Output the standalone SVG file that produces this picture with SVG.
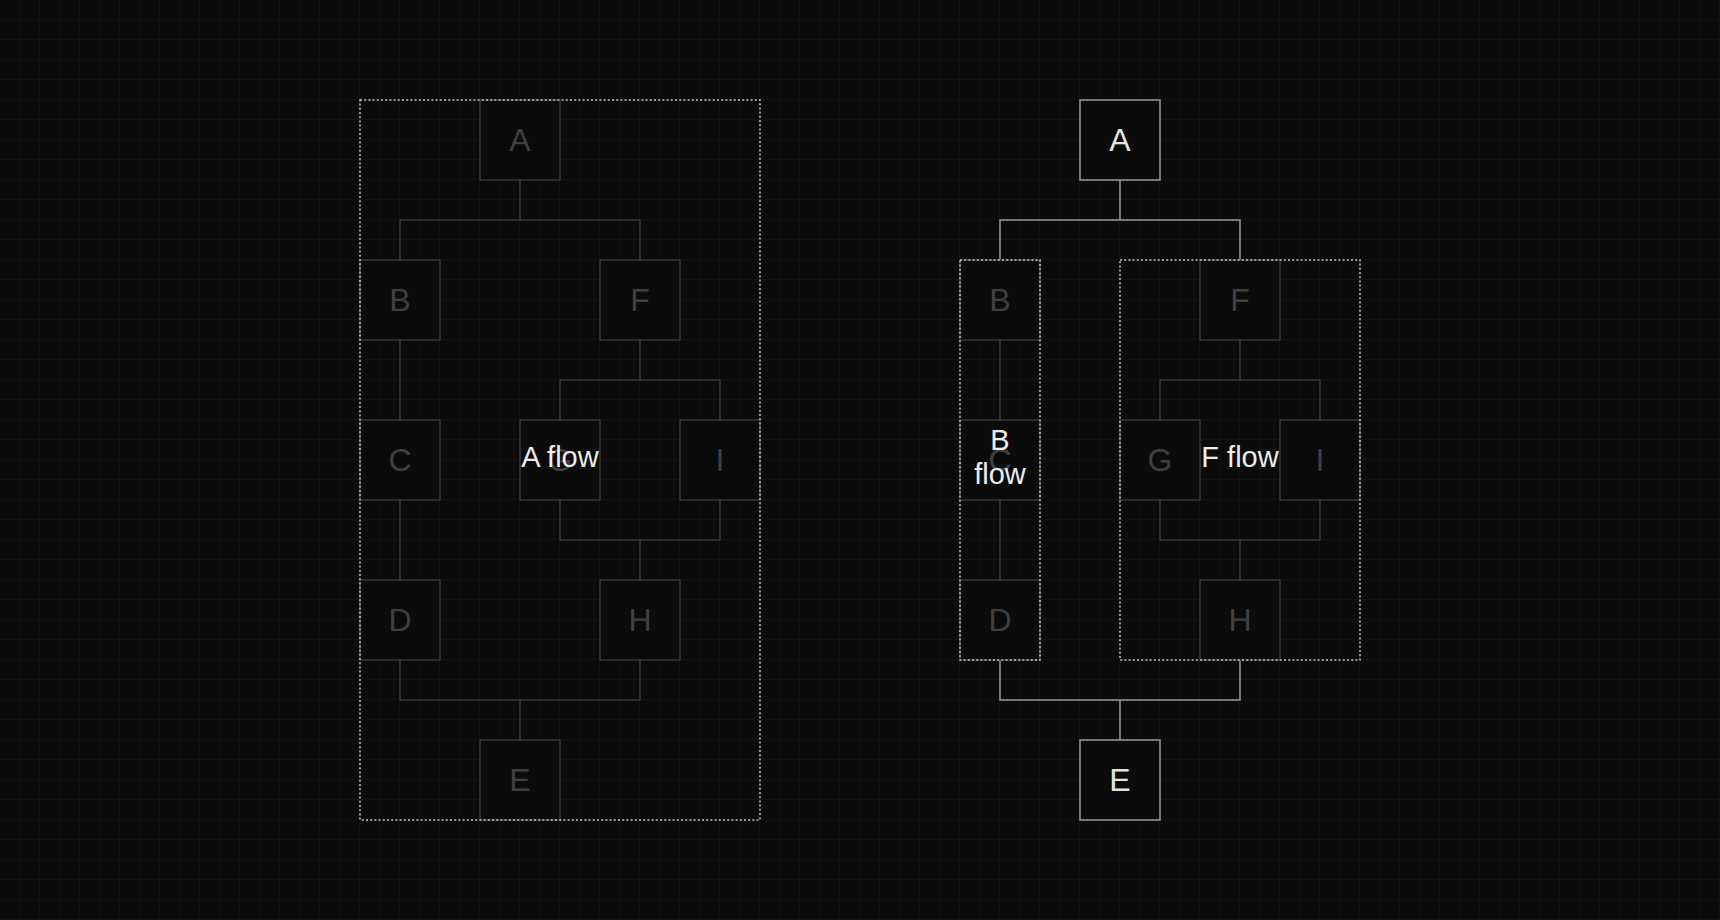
<svg xmlns="http://www.w3.org/2000/svg" width="1720" height="920" viewBox="0 0 1720 920">
<defs>
<pattern id="grid" width="20" height="20" patternUnits="userSpaceOnUse">
<path d="M20 0V20M0 20H20" fill="none" stroke="#181818" stroke-width="1"/>
</pattern>
<style>
.bg{fill:#0b0b0b}
.dn{fill:#0b0b0b;stroke:#383838;stroke-width:1.5}
.bn{fill:#0b0b0b;stroke:#9a9a9a;stroke-width:1.5}
.dc{fill:none;stroke:#383838;stroke-width:1.5}
.bc{fill:none;stroke:#9a9a9a;stroke-width:1.5}
.dt{fill:#404040;font-family:"Liberation Sans",Arial,sans-serif;font-size:32px;text-anchor:middle}
.bt{fill:#e2e2e2;font-family:"Liberation Sans",Arial,sans-serif;font-size:32px;text-anchor:middle}
.grp{fill:none;stroke:#c8c8c8;stroke-width:1.5;stroke-dasharray:2 2.2}
.lbl{fill:#ececec;font-family:"Liberation Sans",Arial,sans-serif;font-size:29px;text-anchor:middle}
</style>
</defs>
<rect class="bg" x="0" y="0" width="1720" height="920"/>
<rect x="0" y="0" width="1720" height="920" fill="url(#grid)"/>

<!-- LEFT: A flow -->
<g id="left-connectors">
<path class="dc" d="M520 180V220M400 260V220H640V260"/>
<path class="dc" d="M400 340V420M400 500V580"/>
<path class="dc" d="M640 340V380M560 420V380H720V420"/>
<path class="dc" d="M560 500V540H720V500M640 540V580"/>
<path class="dc" d="M400 660V700H640V660M520 700V740"/>
</g>
<g id="l-A"><rect class="dn" x="480" y="100" width="80" height="80"/><text class="dt" x="520" y="151">A</text></g>
<g id="l-B"><rect class="dn" x="360" y="260" width="80" height="80"/><text class="dt" x="400" y="311">B</text></g>
<g id="l-F"><rect class="dn" x="600" y="260" width="80" height="80"/><text class="dt" x="640" y="311">F</text></g>
<g id="l-C"><rect class="dn" x="360" y="420" width="80" height="80"/><text class="dt" x="400" y="471">C</text></g>
<g id="l-G"><rect class="dn" x="520" y="420" width="80" height="80"/><text class="dt" x="560" y="471">G</text></g>
<g id="l-I"><rect class="dn" x="680" y="420" width="80" height="80"/><text class="dt" x="720" y="471">I</text></g>
<g id="l-D"><rect class="dn" x="360" y="580" width="80" height="80"/><text class="dt" x="400" y="631">D</text></g>
<g id="l-H"><rect class="dn" x="600" y="580" width="80" height="80"/><text class="dt" x="640" y="631">H</text></g>
<g id="l-E"><rect class="dn" x="480" y="740" width="80" height="80"/><text class="dt" x="520" y="791">E</text></g>
<g id="group-A-flow"><rect class="grp" x="360" y="100" width="400" height="720"/><text class="lbl" x="560" y="467">A flow</text></g>

<!-- RIGHT -->
<g id="right-connectors">
<path class="bc" d="M1120 180V220M1000 260V220H1240V260"/>
<path class="dc" d="M1000 340V420M1000 500V580"/>
<path class="dc" d="M1240 340V380M1160 420V380H1320V420"/>
<path class="dc" d="M1160 500V540H1320V500M1240 540V580"/>
<path class="bc" d="M1000 660V700H1240V660M1120 700V740"/>
</g>
<g id="r-A"><rect class="bn" x="1080" y="100" width="80" height="80"/><text class="bt" x="1120" y="151">A</text></g>
<g id="r-B"><rect class="dn" x="960" y="260" width="80" height="80"/><text class="dt" x="1000" y="311">B</text></g>
<g id="r-F"><rect class="dn" x="1200" y="260" width="80" height="80"/><text class="dt" x="1240" y="311">F</text></g>
<g id="r-C"><rect class="dn" x="960" y="420" width="80" height="80"/><text class="dt" x="1000" y="471">C</text></g>
<g id="r-G"><rect class="dn" x="1120" y="420" width="80" height="80"/><text class="dt" x="1160" y="471">G</text></g>
<g id="r-I"><rect class="dn" x="1280" y="420" width="80" height="80"/><text class="dt" x="1320" y="471">I</text></g>
<g id="r-D"><rect class="dn" x="960" y="580" width="80" height="80"/><text class="dt" x="1000" y="631">D</text></g>
<g id="r-H"><rect class="dn" x="1200" y="580" width="80" height="80"/><text class="dt" x="1240" y="631">H</text></g>
<g id="r-E"><rect class="bn" x="1080" y="740" width="80" height="80"/><text class="bt" x="1120" y="791">E</text></g>
<g id="group-B-flow"><rect class="grp" x="960" y="260" width="80" height="400"/><text class="lbl" x="1000" y="450">B</text><text class="lbl" x="1000" y="484">flow</text></g>
<g id="group-F-flow"><rect class="grp" x="1120" y="260" width="240" height="400"/><text class="lbl" x="1240" y="467">F flow</text></g>
</svg>
